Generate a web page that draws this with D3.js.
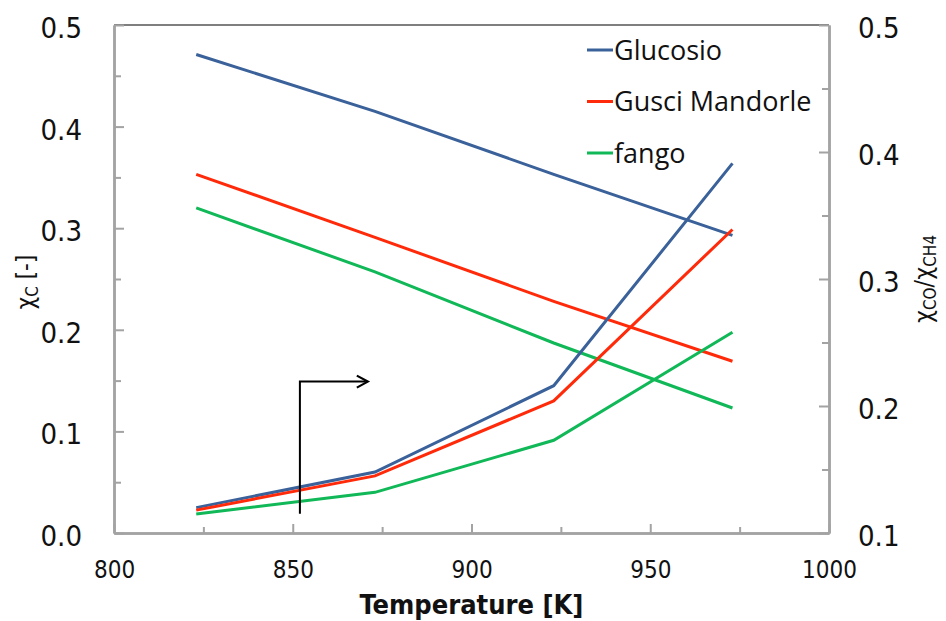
<!DOCTYPE html>
<html>
<head>
<meta charset="utf-8">
<script src="https://cdn.jsdelivr.net/npm/d3@7"></script>
<style>
	body { margin: 0; background: #fff; }
	svg { display: block; }
	.tick text { font-family: "DejaVu Sans Condensed", "DejaVu Sans", sans-serif; fill: #111; }
	.axis .domain { stroke: #a3a3a3; stroke-width: 2.5; }
	.axis .tick line { stroke: #a3a3a3; stroke-width: 2; }
</style>
</head>
<body>
<svg width="946" height="621"></svg>
<script>
// Temperatures [K] of the four runs
const temps = [823, 873, 923, 973];

// chi_C on the left axis (falling curves)
const chiCGlucosio = [0.471, 0.415, 0.353, 0.293];
const chiCGusci    = [0.353, 0.291, 0.228, 0.169];
const chiCFango    = [0.320, 0.257, 0.187, 0.123];

// chi_CO / chi_CH4 on the right axis (rising curves)
const ratioGlucosio = [0.120, 0.148, 0.216, 0.391];
const ratioGusci    = [0.118, 0.145, 0.204, 0.339];
const ratioFango    = [0.115, 0.132, 0.173, 0.258];

const seriesNames  = ["Glucosio", "Gusci Mandorle", "fango"];
const seriesColors = ["#3a6199", "#ff2a0a", "#10b857"];

const xTicks      = [800, 850, 900, 950, 1000];
const leftTicks   = [0, 0.1, 0.2, 0.3, 0.4, 0.5];
const rightTicks  = [0.1, 0.2, 0.3, 0.4, 0.5];

// position of the little arrow that points to the right axis
const arrowX = [852, 871];
const arrowY = [0.019, 0.149];

const svg = d3.select("svg");
const margin = { left: 114, right: 946 - 829, top: 25, bottom: 621 - 533 };
const width = 946, height = 621;

const x = d3.scaleLinear().domain([800, 1000]).range([margin.left, width - margin.right]);
const yL = d3.scaleLinear().domain([0, 0.5]).range([height - margin.bottom, margin.top]);
const yR = d3.scaleLinear().domain([0.1, 0.5]).range([height - margin.bottom, margin.top]);

// midpoints for the minor ticks
const mid = arr => arr.slice(1).map((d, i) => (d + arr[i]) / 2);

// top border
svg.append("line")
	.attr("x1", x(800)).attr("x2", x(1000))
	.attr("y1", yL(0.5)).attr("y2", yL(0.5))
	.attr("stroke", "#555").attr("stroke-width", 1.5);

// minor ticks first, majors and labels on top
svg.append("g").attr("class", "axis")
	.attr("transform", `translate(${x(800)},0)`)
	.call(d3.axisLeft(yL).tickValues(mid(leftTicks)).tickSize(-7).tickSizeOuter(0).tickFormat(""));
svg.append("g").attr("class", "axis")
	.attr("transform", `translate(${x(800)},0)`)
	.call(d3.axisLeft(yL).tickValues(leftTicks).tickSize(-10).tickSizeOuter(0).tickPadding(32)
		.tickFormat(d3.format(".1f")))
	.selectAll("text").attr("font-size", 29).attr("dy", "0.43em");

svg.append("g").attr("class", "axis")
	.attr("transform", `translate(${x(1000)},0)`)
	.call(d3.axisRight(yR).tickValues(mid(rightTicks)).tickSize(-7).tickSizeOuter(0).tickFormat(""));
svg.append("g").attr("class", "axis")
	.attr("transform", `translate(${x(1000)},0)`)
	.call(d3.axisRight(yR).tickValues(rightTicks).tickSize(-10).tickSizeOuter(0).tickPadding(29)
		.tickFormat(d3.format(".1f")))
	.selectAll("text").attr("font-size", 29).attr("dy", "0.43em");

svg.append("g").attr("class", "axis")
	.attr("transform", `translate(0,${yL(0)})`)
	.call(d3.axisBottom(x).tickValues(mid(xTicks)).tickSize(-6).tickSizeOuter(0).tickFormat(""));
svg.append("g").attr("class", "axis")
	.attr("transform", `translate(0,${yL(0)})`)
	.call(d3.axisBottom(x).tickValues(xTicks).tickSize(-9).tickSizeOuter(0).tickPadding(28)
		.tickFormat(d3.format("d")))
	.selectAll("text").attr("font-size", 24);

// curves
const chiSeries   = [chiCGlucosio, chiCGusci, chiCFango];
const ratioSeries = [ratioGlucosio, ratioGusci, ratioFango];

const lineL = d3.line().x((d, i) => x(temps[i])).y(d => yL(d));
const lineR = d3.line().x((d, i) => x(temps[i])).y(d => yR(d));

chiSeries.forEach((s, k) => {
	svg.append("path").datum(s)
		.attr("d", lineL).attr("fill", "none")
		.attr("stroke", seriesColors[k]).attr("stroke-width", 3);
});
ratioSeries.forEach((s, k) => {
	svg.append("path").datum(s)
		.attr("d", lineR).attr("fill", "none")
		.attr("stroke", seriesColors[k]).attr("stroke-width", 3);
});

// arrow
const ax0 = x(arrowX[0]), ax1 = x(arrowX[1]);
const ayB = yL(arrowY[0]), ayT = yL(arrowY[1]);
svg.append("polyline")
	.attr("points", `${ax0},${ayB} ${ax0},${ayT} ${ax1 - 2},${ayT}`)
	.attr("fill", "none").attr("stroke", "#000").attr("stroke-width", 2);
svg.append("polyline")
	.attr("points", `${ax1 - 11},${ayT - 6} ${ax1},${ayT} ${ax1 - 11},${ayT + 6}`)
	.attr("fill", "none").attr("stroke", "#000").attr("stroke-width", 2.2);

// legend
const legend = svg.append("g");
seriesNames.forEach((name, k) => {
	const ly = 50 + k * 51.5;
	legend.append("line")
		.attr("x1", 587).attr("x2", 613).attr("y1", ly).attr("y2", ly)
		.attr("stroke", seriesColors[k]).attr("stroke-width", 3);
	legend.append("text")
		.attr("x", 614).attr("y", ly).attr("dy", "0.36em")
		.attr("font-family", "'Open Sans', sans-serif").attr("font-size", 27)
		.attr("fill", "#111")
		.text(name);
});

// axis titles
svg.append("text")
	.attr("x", x(900)).attr("y", 614)
	.attr("text-anchor", "middle")
	.attr("font-family", "'DejaVu Sans Condensed', 'DejaVu Sans', sans-serif")
	.attr("font-weight", "bold").attr("font-size", 27)
	.attr("fill", "#111")
	.text("Temperature [K]");

const leftTitle = svg.append("text")
	.attr("transform", `translate(34,${(yL(0) + yL(0.5)) / 2 + 3}) rotate(-90)`)
	.attr("text-anchor", "middle")
	.attr("font-family", "'DejaVu Sans Condensed', 'DejaVu Sans', sans-serif")
	.attr("font-size", 24).attr("fill", "#111");
leftTitle.append("tspan").text("χ");
leftTitle.append("tspan").attr("font-size", 17).attr("dy", 4).text("C");
leftTitle.append("tspan").attr("dy", -4).text("  [-]");

const rightTitle = svg.append("text")
	.attr("transform", `translate(932,${(yR(0.1) + yR(0.5)) / 2}) rotate(-90)`)
	.attr("text-anchor", "middle")
	.attr("font-family", "'DejaVu Sans Condensed', 'DejaVu Sans', sans-serif")
	.attr("font-size", 25).attr("fill", "#111");
rightTitle.append("tspan").text("χ");
rightTitle.append("tspan").attr("font-size", 17).attr("dy", 4).text("CO");
rightTitle.append("tspan").attr("dy", -4).text("/χ");
rightTitle.append("tspan").attr("font-size", 17).attr("dy", 4).text("CH4");
</script>
</body>
</html>
